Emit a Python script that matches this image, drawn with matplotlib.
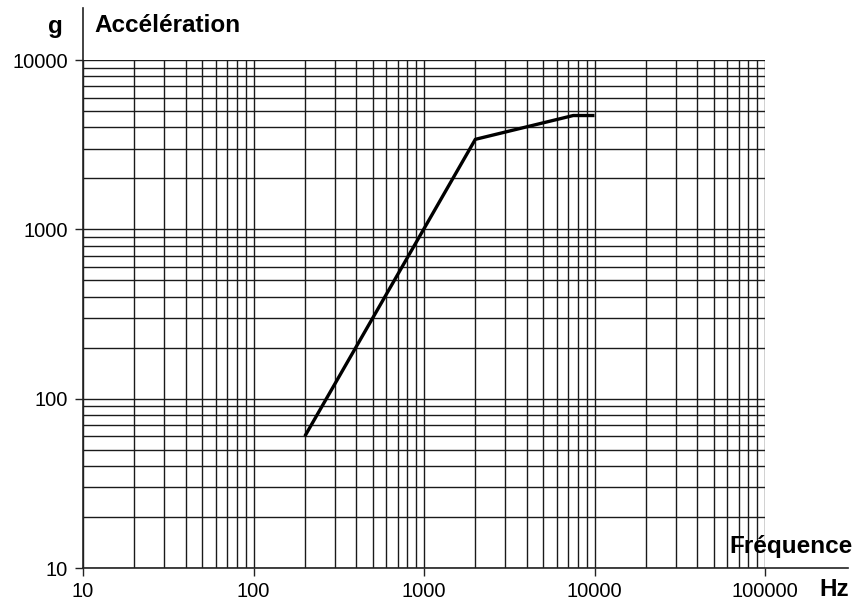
import matplotlib
matplotlib.use("Agg")
import matplotlib.pyplot as plt
from matplotlib.lines import Line2D
from matplotlib.ticker import LogLocator, FixedLocator, NullFormatter

plt.rcParams['font.family'] = ['Liberation Sans', 'DejaVu Sans']

# Data
freq_hz = [200, 2000, 7500, 10000]
accel_g = [60, 3400, 4700, 4700]

x_ticks = [10, 100, 1000, 10000, 100000]
x_tick_labels = ["10", "100", "1000", "10000", "100000"]
y_ticks = [10, 100, 1000, 10000]
y_tick_labels = ["10", "100", "1000", "10000"]

fig = plt.figure(figsize=(8.55, 6.01), dpi=100)
ax = fig.add_axes([83/855, 33/601, 682/855, 508/601])
ax.set_xscale('log')
ax.set_yscale('log')
ax.set_xlim(10, 100000)
ax.set_ylim(10, 10000)

ax.xaxis.set_major_locator(FixedLocator(x_ticks))
ax.set_xticklabels(x_tick_labels)
ax.yaxis.set_major_locator(FixedLocator(y_ticks))
ax.set_yticklabels(y_tick_labels)
ax.xaxis.set_minor_locator(LogLocator(base=10, subs=range(2, 10)))
ax.yaxis.set_minor_locator(LogLocator(base=10, subs=range(2, 10)))
ax.xaxis.set_minor_formatter(NullFormatter())
ax.yaxis.set_minor_formatter(NullFormatter())

ax.grid(True, which='both', color='#1a1a1a', linewidth=1.0)
ax.set_axisbelow(True)
ax.tick_params(axis='y', which='major', direction='out', length=6, width=1, color='#222222',
               labelsize=14.5, pad=5)
ax.tick_params(axis='x', which='major', direction='out', length=6, width=1, color='#222222',
               labelsize=14.5, pad=4)
ax.tick_params(which='minor', length=0)

for s in ['top', 'right', 'left', 'bottom']:
    ax.spines[s].set_visible(False)

# extended axis lines
ax.add_line(Line2D([0, 0], [0, 1.102], transform=ax.transAxes, color='#222222',
                   linewidth=1.2, clip_on=False))
ax.add_line(Line2D([0, 1.122], [0, 0], transform=ax.transAxes, color='#222222',
                   linewidth=1.2, clip_on=False))

ax.plot(freq_hz, accel_g, color='black', linewidth=2.4, solid_capstyle='butt', zorder=5)

fig.text(63/855, 1 - 26/601, "g", ha='right', va='center', fontsize=17.5, fontweight='bold')
fig.text(94/855, 1 - 25/601, "Accélération", ha='left', va='center', fontsize=17.5, fontweight='bold')
fig.text(853/855, 1 - 547/601, "Fréquence", ha='right', va='center', fontsize=17.5, fontweight='bold')
fig.text(849/855, 1 - 589/601, "Hz", ha='right', va='center', fontsize=17.5, fontweight='bold')

fig.savefig("out.png", dpi=100, facecolor='white')
